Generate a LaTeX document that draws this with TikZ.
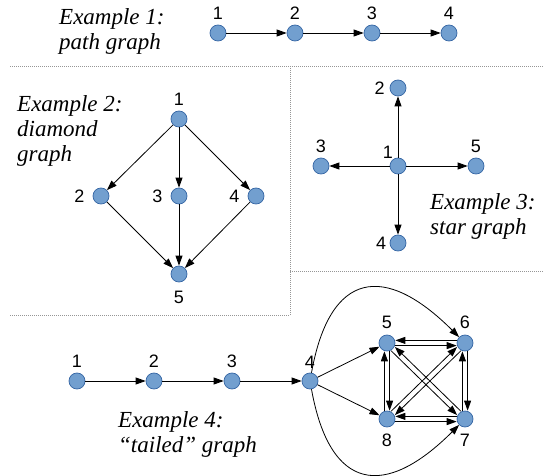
\documentclass[tikz,border=0pt]{standalone}
\usepackage{fontspec}
\setmainfont{Liberation Serif}
\setsansfont{Liberation Sans}
\usetikzlibrary{arrows.meta,positioning}
\definecolor{nodeblue}{RGB}{114,159,207}
\definecolor{nodeedge}{RGB}{52,101,164}
\definecolor{sepgrey}{RGB}{150,150,150}

\begin{document}
\begin{tikzpicture}[x=1pt,y=-1pt,>={Triangle[length=10pt,width=7pt]}]
  \tikzstyle{vtx}=[circle,draw=nodeedge,fill=nodeblue,line width=0.7pt,minimum size=16pt,inner sep=0pt]
  \tikzstyle{num}=[font=\sffamily\fontsize{18}{22}\selectfont,inner sep=1pt]
  \tikzstyle{title}=[font=\itshape\fontsize{23}{25}\selectfont,align=left,inner sep=0pt,anchor=base west]
  \tikzstyle{arr}=[->,line width=0.8pt]
  \tikzstyle{sep}=[sepgrey,line width=0.6pt,dash pattern=on 1pt off 1pt]
  \useasboundingbox (0,0) rectangle (544,476);

  % separators
  \draw[sep] (10,66) -- (544,66);
  \draw[sep] (290,66) -- (290,315);
  \draw[sep] (10,315) -- (290,315);
  \draw[sep] (290,271) -- (544,271);

  % Example 1
  \node[title] (title1) at (59,50) {Example 1:\\path graph};
  \node[vtx] (p1) at (218,33) {};
  \node[vtx] (p2) at (295,33) {};
  \node[vtx] (p3) at (372,33) {};
  \node[vtx] (p4) at (449,33) {};
  \node[num,above=3.6pt of p1] (p1n) {1};
  \node[num,above=3.6pt of p2] (p2n) {2};
  \node[num,above=3.6pt of p3] (p3n) {3};
  \node[num,above=3.6pt of p4] (p4n) {4};
  \draw[arr] (p1)--(p2); \draw[arr] (p2)--(p3); \draw[arr] (p3)--(p4);

  % Example 2
  \node[title] (title2) at (17,162) {Example 2:\\diamond\\graph};
  \node[vtx] (d1) at (179,119) {};
  \node[vtx] (d2) at (101,196) {};
  \node[vtx] (d3) at (179,196) {};
  \node[vtx] (d4) at (256,196) {};
  \node[vtx] (d5) at (179,274) {};
  \node[num,above=3.5pt of d1] (d1n) {1};
  \node[num,left=7pt of d2] (d2n) {2};
  \node[num,left=7pt of d3] (d3n) {3};
  \node[num,left=7pt of d4] (d4n) {4};
  \node[num,below=7.7pt of d5] (d5n) {5};
  \draw[arr] (d1)--(d2); \draw[arr] (d1)--(d3); \draw[arr] (d1)--(d4);
  \draw[arr] (d2)--(d5); \draw[arr] (d3)--(d5); \draw[arr] (d4)--(d5);

  % Example 3
  \node[title] (title3) at (430,235) {Example 3:\\star graph};
  \node[vtx] (s1) at (398,166) {};
  \node[vtx] (s2) at (398,88) {};
  \node[vtx] (s3) at (321,166) {};
  \node[vtx] (s4) at (398,243) {};
  \node[vtx] (s5) at (476,166) {};
  \node[num,above left=0pt and 0pt of s1,xshift=2pt] (s1n) {1};
  \node[num,left=3.7pt of s2] (s2n) {2};
  \node[num,above=3.6pt of s3] (s3n) {3};
  \node[num,left=2.4pt of s4] (s4n) {4};
  \node[num,above=3.6pt of s5] (s5n) {5};
  \draw[arr] (s1)--(s2); \draw[arr] (s1)--(s3);
  \draw[arr] (s1)--(s4); \draw[arr] (s1)--(s5);

  % Example 4
  \node[title] (title4) at (118,452) {Example 4:\\“tailed” graph};
  \node[vtx] (t1) at (77,381) {};
  \node[vtx] (t2) at (154,381) {};
  \node[vtx] (t3) at (232,381) {};
  \node[vtx] (t4) at (310,381) {};
  \node[vtx] (t5) at (387,343) {};
  \node[vtx] (t6) at (465,343) {};
  \node[vtx] (t7) at (465,419) {};
  \node[vtx] (t8) at (387,419) {};
  \node[num,above=4.2pt of t1] (t1n) {1};
  \node[num,above=4.2pt of t2] (t2n) {2};
  \node[num,above=4.2pt of t3] (t3n) {3};
  \node[num,above=3.2pt of t4] (t4n) {4};
  \node[num,above=5.2pt of t5] (t5n) {5};
  \node[num,above=5.2pt of t6] (t6n) {6};
  \node[num,below=5.2pt of t7] (t7n) {7};
  \node[num,below=5.2pt of t8] (t8n) {8};
  \draw[arr] (t1)--(t2); \draw[arr] (t2)--(t3); \draw[arr] (t3)--(t4);
  \draw[arr] (t4)--(t5); \draw[arr] (t4)--(t8);
  \draw[arr] (t4) .. controls (330,270) and (385,263) .. (t6);
  \draw[arr] (t4) .. controls (330,492) and (385,499) .. (t7);
  % both ways between 5,6,7,8
  \draw[arr,transform canvas={yshift=2.6pt}] (t6)--(t5);
  \draw[arr,transform canvas={yshift=-2.6pt}] (t5)--(t6);
  \draw[arr,transform canvas={xshift=-2.6pt}] (t8)--(t5);
  \draw[arr,transform canvas={xshift=2.6pt}] (t5)--(t8);
  \draw[arr,transform canvas={xshift=-2.6pt}] (t7)--(t6);
  \draw[arr,transform canvas={xshift=2.6pt}] (t6)--(t7);
  \draw[arr,transform canvas={yshift=2.6pt}] (t7)--(t8);
  \draw[arr,transform canvas={yshift=-2.6pt}] (t8)--(t7);
  \draw[arr,transform canvas={shift={(1.9pt,1.9pt)}}] (t7)--(t5);
  \draw[arr,transform canvas={shift={(-1.9pt,-1.9pt)}}] (t5)--(t7);
  \draw[arr,transform canvas={shift={(-1.9pt,1.9pt)}}] (t8)--(t6);
  \draw[arr,transform canvas={shift={(1.9pt,-1.9pt)}}] (t6)--(t8);
\end{tikzpicture}
\end{document}
